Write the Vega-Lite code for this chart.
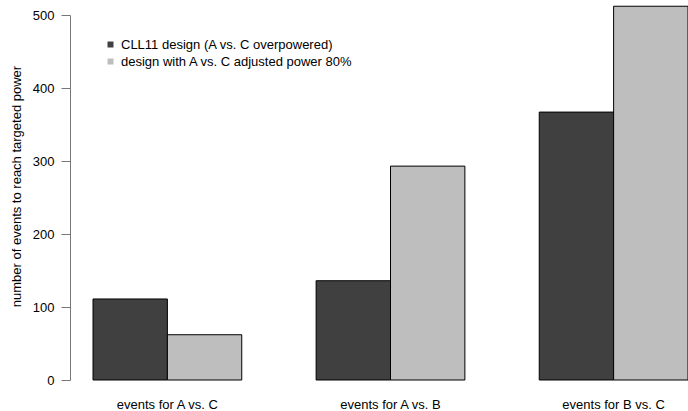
{
  "$schema": "https://vega.github.io/schema/vega-lite/v6.json",
  "autosize": "none",
  "width": 595,
  "height": 365,
  "padding": {"left": 93, "top": 15, "right": 0, "bottom": 31},
  "background": "white",
  "config": {
    "view": {"stroke": null},
    "font": "Liberation Sans",
    "axis": {"grid": false}
  },
  "data": {
    "values": [
      {"comparison": "events for A vs. C", "design": "CLL11 design (A vs. C overpowered)", "events": 111},
      {"comparison": "events for A vs. C", "design": "design with A vs. C adjusted power 80%", "events": 62},
      {"comparison": "events for A vs. B", "design": "CLL11 design (A vs. C overpowered)", "events": 136},
      {"comparison": "events for A vs. B", "design": "design with A vs. C adjusted power 80%", "events": 293},
      {"comparison": "events for B vs. C", "design": "CLL11 design (A vs. C overpowered)", "events": 367},
      {"comparison": "events for B vs. C", "design": "design with A vs. C adjusted power 80%", "events": 512}
    ]
  },
  "mark": {"type": "bar", "stroke": "#000000", "strokeWidth": 1, "clip": false},
  "encoding": {
    "x": {
      "field": "comparison",
      "type": "nominal",
      "sort": ["events for A vs. C", "events for A vs. B", "events for B vs. C"],
      "scale": {"paddingInner": 0.3333, "paddingOuter": 0},
      "axis": {
        "title": null,
        "domain": false,
        "ticks": false,
        "tickSize": 0,
        "labelAngle": 0,
        "labelFontSize": 13,
        "labelColor": "#000000",
        "labelBaseline": "alphabetic",
        "labelPadding": 28
      }
    },
    "xOffset": {
      "field": "design",
      "type": "nominal",
      "scale": {"paddingInner": 0, "paddingOuter": 0}
    },
    "y": {
      "field": "events",
      "type": "quantitative",
      "scale": {"domain": [0, 500], "nice": false, "zero": true},
      "axis": {
        "values": [0, 100, 200, 300, 400, 500],
        "offset": 23,
        "domainColor": "#777777",
        "tickColor": "#777777",
        "tickSize": 9,
        "labelPadding": 7,
        "labelFontSize": 13,
        "labelColor": "#000000",
        "title": "number of events to reach targeted power",
        "titleFontSize": 13,
        "titleFontWeight": "normal",
        "titleColor": "#000000",
        "titleAngle": -90,
        "titleX": -50,
        "titleY": 171,
        "titleAlign": "center",
        "titleBaseline": "alphabetic"
      }
    },
    "color": {
      "field": "design",
      "type": "nominal",
      "scale": {
        "domain": ["CLL11 design (A vs. C overpowered)", "design with A vs. C adjusted power 80%"],
        "range": ["#404040", "#bebebe"]
      },
      "legend": {
        "title": null,
        "orient": "none",
        "legendX": 11,
        "legendY": 23,
        "padding": 0,
        "symbolType": "square",
        "symbolSize": 36,
        "symbolStrokeWidth": 0,
        "labelFontSize": 13,
        "labelColor": "#000000",
        "labelOffset": 4,
        "rowPadding": 3,
        "labelLimit": 400
      }
    }
  }
}
